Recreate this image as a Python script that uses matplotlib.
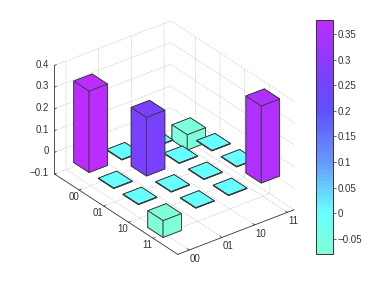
import matplotlib
matplotlib.use('Agg')
import matplotlib.pyplot as plt
from matplotlib.colors import LinearSegmentedColormap, Normalize
from matplotlib.cm import ScalarMappable

plt.rcParams['font.family'] = ['Liberation Sans', 'DejaVu Sans']
plt.rcParams['font.size'] = 7

labels = ['00', '01', '10', '11']
row1 = [0.375, 0.002, 0.002, -0.07]
row2 = [0.002, 0.27, 0.002, 0.002]
row3 = [0.002, 0.002, 0.002, 0.002]
row4 = [-0.077, 0.002, 0.002, 0.355]
rows = [row1, row2, row3, row4]

z_ticks = [-0.1, 0, 0.1, 0.2, 0.3, 0.4]
z_labels = ['\u22120.1', '0', '0.1', '0.2', '0.3', '0.4']
cb_ticks = [-0.05, 0, 0.05, 0.1, 0.15, 0.2, 0.25, 0.3, 0.35]
cb_labels = ['\u22120.05', '0', '0.05', '0.1', '0.15', '0.2', '0.25', '0.3', '0.35']
vmin, vmax = -0.079, 0.377

stops = [(0, '#7fffd8'), (0.173, '#66ffff'), (0.392, '#6699ff'), (0.612, '#6050ff'), (0.765, '#7a40ff'), (1, '#bc2cff')]
cmap = LinearSegmentedColormap.from_list('rho', stops, N=64)
norm = Normalize(vmin, vmax)

fig = plt.figure(figsize=(3.82, 2.87), dpi=100)
ax = fig.add_axes([0.046, 0.007, 0.80, 1.0], projection='3d', proj_type='ortho')
ax.view_init(elev=30, azim=-37.5)
ax.set_box_aspect((202, 146, 125), zoom=0.946)
ax.computed_zorder = False

w = 0.62
d = 0.56
order = 0
for i in range(4):
    for j in range(3, -1, -1):
        v = rows[i][j]
        c = cmap(norm(v))
        ax.bar3d(i + 1 - w / 2, j + 1 - d / 2, min(v, 0), w, d, abs(v), color=c, shade=False,
                 edgecolor='#3a3a3a', linewidth=0.6, zorder=order)
        order += 1

ax.set_xlim(0, 5)
ax.set_ylim(0.65, 4.2)
ax.set_zlim(-0.1, 0.4)
ax.set_xticks([1, 2, 3, 4])
ax.set_xticklabels(labels, ha='center', va='center')
ax.set_yticks([1, 2, 3, 4])
ax.set_yticklabels(labels, ha='center', va='center')
ax.set_zticks(z_ticks)
ax.set_zticklabels(z_labels, ha='right', va='center')
ax.zaxis.set_ticks_position('lower')
ax.tick_params(axis='x', pad=-3, labelsize=7, colors='#333333')
ax.tick_params(axis='y', pad=-3, labelsize=7, colors='#333333')
ax.tick_params(axis='z', pad=-5.5, labelsize=7, colors='#333333')

for a in (ax.xaxis, ax.yaxis, ax.zaxis):
    a.set_pane_color((1, 1, 1, 0))
    a.pane.set_edgecolor('#aaaaaa')
    a.pane.set_linestyle(':')
    a.pane.set_linewidth(0.5)
    a.line.set_color('#333333')
    a.line.set_linewidth(0.6)
    a._axinfo['grid'].update(color='#aaaaaa', linestyle=':', linewidth=0.5)
    a._axinfo['tick'].update(inward_factor=0.0, outward_factor=0.2, linewidth={True: 0.5, False: 0.5})

cax = fig.add_axes([316 / 382, 33 / 287, 17 / 382, 234 / 287])
cb = fig.colorbar(ScalarMappable(norm=norm, cmap=cmap), cax=cax, ticks=cb_ticks)
cb.ax.set_yticklabels(cb_labels)
cb.ax.tick_params(labelsize=7, length=2, width=0.5, pad=1, colors='#333333')
cb.outline.set_linewidth(0.7)
cb.outline.set_edgecolor('#333333')

fig.savefig('out.png', dpi=100)
